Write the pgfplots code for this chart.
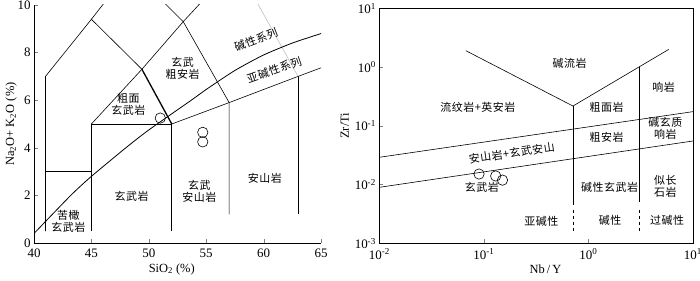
\documentclass[border=0pt]{standalone}
\usepackage{fontspec}
\setmainfont{Liberation Serif}
\newfontfamily\cjk[LetterSpace=5]{Noto Sans CJK SC}
\usepackage{pgfplots}
\pgfplotsset{compat=1.18}
\newcommand{\lab}{\cjk\fontsize{11}{12.5}\selectfont}
\begin{document}
\begin{tikzpicture}[x=1bp,y=1bp]
\useasboundingbox (0,0) rectangle (700,280);
% ---------------- left: TAS ----------------
\begin{axis}[
  at={(34bp,37bp)}, anchor=south west,
  scale only axis, width=287bp, height=238bp,
  xmin=40, xmax=65, ymin=0, ymax=10,
  axis lines*=left,
  xtick={40,45,...,65}, ytick={0,2,...,10},
  tick align=inside, major tick length=4bp,
  tick label style={font=\fontsize{13}{14}\selectfont},
  xticklabel style={yshift=-2bp},
  /pgf/number format/assume math mode=true,
  xlabel={SiO\textsubscript{2} (\%)},
  ylabel={Na\textsubscript{2}O+ K\textsubscript{2}O (\%)},
  label style={font=\fontsize{12.5}{14}\selectfont},
  xlabel style={at={(axis description cs:0.48,-0.11)}, anchor=center},
  ylabel style={at={(axis description cs:-0.08,0.5)}, anchor=center},
  axis line style={line width=0.6pt},
  every axis plot/.append style={line width=0.6pt, black},
]
\addplot[no marks] coordinates {(41,0.5) (41,7) (45,9.4) (48.4,11.5)};
\addplot[no marks] coordinates {(41,3) (45,3)};
\addplot[no marks, line width=1.3pt] coordinates {(45,0.5) (45,5)};
\addplot[no marks, line width=1.0pt] coordinates {(45,5) (52,5)};
\addplot[no marks, line width=1.3pt] coordinates {(52,0.5) (52,5)};
\addplot[no marks] coordinates {(45,9.4) (49.4,7.3)};
\addplot[no marks, line width=1.3pt] coordinates {(49.4,7.3) (52,5)};
\addplot[no marks] coordinates {(45,5) (49.4,7.3) (53,9.3) (57.6,11.7)};
\addplot[no marks] coordinates {(48.4,11.5) (53,9.3) (57,5.9) (57,1.2)};
\addplot[no marks] coordinates {(52,5) (57,5.9) (63,7) (65.5,7.45)};
\addplot[no marks] coordinates {(63,7) (63,1.2)};
\addplot[no marks, gray!50] coordinates {(57.6,11.7) (63,7)};
\addplot[no marks, line width=0.8pt, smooth, tension=0.4] coordinates {(39.2,0) (40,0.4) (43.2,2) (45,2.8) (48,4) (50,4.75) (53.7,6) (55,6.45) (57.5,7.25) (60,7.9) (62.5,8.4) (65,8.8) (66,8.95)};
\addplot[only marks, mark=o, mark size=5.2pt, line width=0.6pt] coordinates {(51.0,5.25) (54.7,4.65) (54.7,4.25)};
\node[align=center] at (axis cs:52.95,7.34) {\lab 玄武\\ \lab 粗安岩};
\node[align=center] at (axis cs:48.21,5.84) {\lab 粗面\\ \lab 玄武岩};
\node[rotate=21] at (axis cs:59.34,8.53) {\lab 碱性系列};
\node[rotate=19] at (axis cs:60.93,7.27) {\lab 亚碱性系列};
\node at (axis cs:48.51,1.95) {\lab 玄武岩};
\node[align=center] at (axis cs:54.4,2.16) {\lab 玄武\\ \lab 安山岩};
\node at (axis cs:60.12,2.72) {\lab 安山岩};
\node[align=center] at (axis cs:42.99,0.9) {\lab 苦橄\\ \lab 玄武岩};
\end{axis}
% ---------------- right: Zr/Ti vs Nb/Y ----------------
\begin{axis}[
  at={(379.3bp,36.7bp)}, anchor=south west,
  scale only axis, width=313.5bp, height=235bp,
  xmode=log, ymode=log,
  xmin=0.01, xmax=10, ymin=0.001, ymax=10,
  xtick={0.01,0.1,1,10}, ytick={0.001,0.01,0.1,1,10},
  xticklabels={10\textsuperscript{-2},10\textsuperscript{-1},10\textsuperscript{0},10\textsuperscript{1}},
  yticklabels={10\textsuperscript{-3},10\textsuperscript{-2},10\textsuperscript{-1},10\textsuperscript{0},10\textsuperscript{1}},
  xminorticks=false, yminorticks=false,
  tick pos=left, tick align=inside, major tick length=4bp,
  tick label style={font=\fontsize{13}{14}\selectfont},
  xticklabel style={yshift=-2bp},
  xlabel={Nb\,/\,Y}, ylabel={Zr/Ti},
  label style={font=\fontsize{12.5}{14}\selectfont},
  xlabel style={at={(axis description cs:0.53,-0.11)}, anchor=center},
  ylabel style={at={(axis description cs:-0.11,0.5)}, anchor=center},
  axis line style={line width=0.6pt},
  every axis plot/.append style={line width=0.6pt, black},
]
\addplot[no marks] coordinates {(0.01,0.0291) (10,0.174)};
\addplot[no marks] coordinates {(0.01,0.00897) (10,0.0551)};
\addplot[no marks] coordinates {(0.0673,1.90) (0.713,0.217) (5.89,2.0)};
\addplot[no marks] coordinates {(0.713,0.217) (0.713,0.0045)};
\addplot[no marks, dash pattern=on 3bp off 3bp] coordinates {(0.713,0.0037) (0.713,0.0015)};
\addplot[no marks] coordinates {(3.09,1.02) (3.09,0.0051)};
\addplot[no marks, dash pattern=on 3bp off 3bp] coordinates {(3.09,0.0037) (3.09,0.0015)};
\addplot[only marks, mark=o, mark size=5.2pt, line width=0.6pt] coordinates {(0.090,0.0151) (0.130,0.0140) (0.151,0.0119)};
\node at (axis cs:0.664,1.16) {\lab 碱流岩};
\node at (axis cs:5.24,0.457) {\lab 响岩};
\node at (axis cs:0.0877,0.209) {\lab 流纹岩+英安岩};
\node at (axis cs:1.50,0.209) {\lab 粗面岩};
\node[align=center] at (axis cs:5.47,0.0918) {\lab 碱玄质\\ \lab 响岩};
\node at (axis cs:1.50,0.0646) {\lab 粗安岩};
\node[rotate=8.5] at (axis cs:0.185,0.0344) {\lab 安山岩+玄武安山};
\node at (axis cs:0.0957,0.0091) {\lab 玄武岩};
\node at (axis cs:1.6,0.0091) {\lab 碱性玄武岩};
\node[align=center] at (axis cs:5.47,0.00946) {\lab 似长\\ \lab 石岩};
\node at (axis cs:0.356,0.0024) {\lab 亚碱性};
\node at (axis cs:1.62,0.00245) {\lab 碱性};
\node at (axis cs:5.67,0.00245) {\lab 过碱性};
\end{axis}
\end{tikzpicture}
\end{document}
